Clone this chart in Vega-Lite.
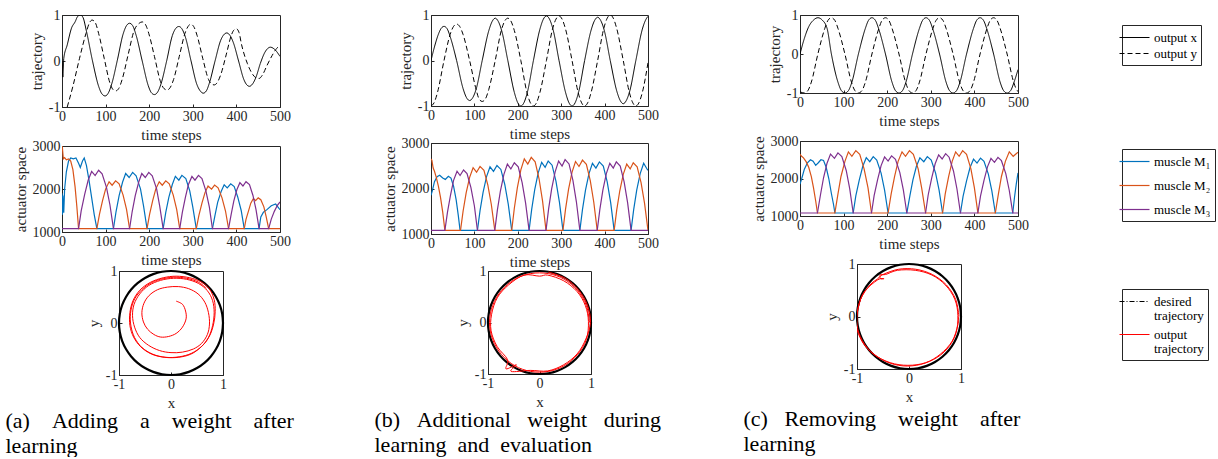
{
"$schema":"https://vega.github.io/schema/vega-lite/v6.json",
"background":"white",
"padding":{"left":5,"top":7,"right":0,"bottom":0},
"config":{
 "view":{"stroke":"#262626","strokeWidth":1},
 "axis":{"labelFont":"Liberation Serif","titleFont":"Liberation Serif","labelFontSize":14,"titleFontSize":15,"titleFontWeight":"normal","labelColor":"#262626","titleColor":"#262626","domainColor":"#262626","tickColor":"#262626","tickSize":-3,"labelPadding":5,"titlePadding":4,"grid":false,"labelFlush":false,"labelOverlap":false},
 "legend":{"labelFont":"Liberation Serif","labelFontSize":13,"labelColor":"black","symbolStrokeWidth":1.2,"strokeColor":"#262626","fillColor":"white","padding":4,"labelOffset":11,"symbolType":"M-2,0H2","symbolSize":225}
},
"datasets":{
"trajA":[
{"t":0,"v":0,"s":"x"},{"t":2,"v":-0.35,"s":"x"},{"t":4,"v":0.05,"s":"x"},{"t":12,"v":0.35,"s":"x"},{"t":22,"v":0.72,"s":"x"},{"t":30,"v":0.85,"s":"x"},{"t":36,"v":0.97,"s":"x"},{"t":42,"v":1.0,"s":"x"},{"t":48,"v":0.95,"s":"x"},{"t":56,"v":0.65,"s":"x"},{"t":70,"v":0.0,"s":"x"},{"t":84,"v":-0.55,"s":"x"},{"t":92,"v":-0.72,"s":"x"},{"t":99,"v":-0.76,"s":"x"},{"t":106,"v":-0.7,"s":"x"},{"t":114,"v":-0.5,"s":"x"},{"t":127,"v":0.02,"s":"x"},{"t":140,"v":0.58,"s":"x"},{"t":148,"v":0.77,"s":"x"},{"t":155,"v":0.82,"s":"x"},{"t":162,"v":0.77,"s":"x"},{"t":170,"v":0.56,"s":"x"},{"t":184,"v":0.0,"s":"x"},{"t":198,"v":-0.54,"s":"x"},{"t":205,"v":-0.69,"s":"x"},{"t":212,"v":-0.73,"s":"x"},{"t":219,"v":-0.68,"s":"x"},{"t":227,"v":-0.5,"s":"x"},{"t":240,"v":0.0,"s":"x"},{"t":253,"v":0.55,"s":"x"},{"t":261,"v":0.71,"s":"x"},{"t":268,"v":0.75,"s":"x"},{"t":275,"v":0.7,"s":"x"},{"t":283,"v":0.52,"s":"x"},{"t":296,"v":0.0,"s":"x"},{"t":309,"v":-0.5,"s":"x"},{"t":317,"v":-0.65,"s":"x"},{"t":324,"v":-0.7,"s":"x"},{"t":331,"v":-0.65,"s":"x"},{"t":338,"v":-0.48,"s":"x"},{"t":351,"v":0.0,"s":"x"},{"t":364,"v":0.45,"s":"x"},{"t":371,"v":0.57,"s":"x"},{"t":378,"v":0.61,"s":"x"},{"t":385,"v":0.56,"s":"x"},{"t":393,"v":0.4,"s":"x"},{"t":405,"v":0.0,"s":"x"},{"t":417,"v":-0.4,"s":"x"},{"t":424,"v":-0.52,"s":"x"},{"t":430,"v":-0.55,"s":"x"},{"t":437,"v":-0.5,"s":"x"},{"t":445,"v":-0.35,"s":"x"},{"t":455,"v":-0.05,"s":"x"},{"t":466,"v":0.2,"s":"x"},{"t":478,"v":0.3,"s":"x"},{"t":488,"v":0.25,"s":"x"},{"t":500,"v":0.1,"s":"x"},
{"t":12,"v":-1.0,"s":"y"},{"t":25,"v":-0.55,"s":"y"},{"t":40,"v":0.05,"s":"y"},{"t":55,"v":0.6,"s":"y"},{"t":63,"v":0.83,"s":"y"},{"t":69,"v":0.89,"s":"y"},{"t":76,"v":0.84,"s":"y"},{"t":84,"v":0.6,"s":"y"},{"t":97,"v":0.05,"s":"y"},{"t":110,"v":-0.48,"s":"y"},{"t":117,"v":-0.62,"s":"y"},{"t":123,"v":-0.65,"s":"y"},{"t":130,"v":-0.6,"s":"y"},{"t":138,"v":-0.4,"s":"y"},{"t":152,"v":0.15,"s":"y"},{"t":165,"v":0.65,"s":"y"},{"t":177,"v":0.82,"s":"y"},{"t":184,"v":0.85,"s":"y"},{"t":191,"v":0.8,"s":"y"},{"t":199,"v":0.6,"s":"y"},{"t":212,"v":0.1,"s":"y"},{"t":226,"v":-0.45,"s":"y"},{"t":234,"v":-0.6,"s":"y"},{"t":241,"v":-0.63,"s":"y"},{"t":248,"v":-0.58,"s":"y"},{"t":256,"v":-0.4,"s":"y"},{"t":269,"v":0.1,"s":"y"},{"t":282,"v":0.6,"s":"y"},{"t":289,"v":0.75,"s":"y"},{"t":295,"v":0.8,"s":"y"},{"t":302,"v":0.75,"s":"y"},{"t":310,"v":0.55,"s":"y"},{"t":323,"v":0.05,"s":"y"},{"t":336,"v":-0.4,"s":"y"},{"t":343,"v":-0.5,"s":"y"},{"t":349,"v":-0.52,"s":"y"},{"t":356,"v":-0.47,"s":"y"},{"t":364,"v":-0.3,"s":"y"},{"t":377,"v":0.15,"s":"y"},{"t":388,"v":0.55,"s":"y"},{"t":394,"v":0.67,"s":"y"},{"t":400,"v":0.7,"s":"y"},{"t":406,"v":0.62,"s":"y"},{"t":412,"v":0.35,"s":"y"},{"t":425,"v":-0.05,"s":"y"},{"t":438,"v":-0.3,"s":"y"},{"t":446,"v":-0.37,"s":"y"},{"t":452,"v":-0.38,"s":"y"},{"t":460,"v":-0.3,"s":"y"},{"t":470,"v":-0.1,"s":"y"},{"t":482,"v":0.12,"s":"y"},{"t":492,"v":0.27,"s":"y"},{"t":500,"v":0.33,"s":"y"}
],
"trajB":[
{"t":0,"v":0,"s":"x"},{"t":8,"v":0.3,"s":"x"},{"t":16,"v":0.55,"s":"x"},{"t":23,"v":0.7,"s":"x"},{"t":30,"v":0.75,"s":"x"},{"t":37,"v":0.7,"s":"x"},{"t":45,"v":0.5,"s":"x"},{"t":59,"v":0.0,"s":"x"},{"t":74,"v":-0.62,"s":"x"},{"t":82,"v":-0.82,"s":"x"},{"t":89,"v":-0.88,"s":"x"},{"t":96,"v":-0.82,"s":"x"},{"t":104,"v":-0.63,"s":"x"},{"t":118,"v":0.0,"s":"x"},{"t":133,"v":0.65,"s":"x"},{"t":141,"v":0.86,"s":"x"},{"t":148,"v":0.93,"s":"x"},{"t":155,"v":0.86,"s":"x"},{"t":163,"v":0.65,"s":"x"},{"t":177,"v":0.0,"s":"x"},{"t":192,"v":-0.7,"s":"x"},{"t":200,"v":-0.93,"s":"x"},{"t":207,"v":-1.0,"s":"x"},{"t":214,"v":-0.93,"s":"x"},{"t":222,"v":-0.7,"s":"x"},{"t":236,"v":0.0,"s":"x"},{"t":251,"v":0.69,"s":"x"},{"t":259,"v":0.91,"s":"x"},{"t":266,"v":0.98,"s":"x"},{"t":273,"v":0.91,"s":"x"},{"t":281,"v":0.69,"s":"x"},{"t":295,"v":0.0,"s":"x"},{"t":310,"v":-0.7,"s":"x"},{"t":318,"v":-0.93,"s":"x"},{"t":325,"v":-1.0,"s":"x"},{"t":332,"v":-0.93,"s":"x"},{"t":340,"v":-0.7,"s":"x"},{"t":354,"v":0.0,"s":"x"},{"t":369,"v":0.67,"s":"x"},{"t":377,"v":0.88,"s":"x"},{"t":384,"v":0.95,"s":"x"},{"t":391,"v":0.88,"s":"x"},{"t":399,"v":0.67,"s":"x"},{"t":413,"v":0.0,"s":"x"},{"t":428,"v":-0.67,"s":"x"},{"t":436,"v":-0.88,"s":"x"},{"t":443,"v":-0.95,"s":"x"},{"t":450,"v":-0.88,"s":"x"},{"t":458,"v":-0.67,"s":"x"},{"t":472,"v":0.0,"s":"x"},{"t":487,"v":0.69,"s":"x"},{"t":495,"v":0.9,"s":"x"},{"t":500,"v":0.97,"s":"x"},
{"t":0,"v":-1.0,"s":"y"},{"t":7,"v":-0.93,"s":"y"},{"t":15,"v":-0.7,"s":"y"},{"t":30,"v":0.0,"s":"y"},{"t":44,"v":0.57,"s":"y"},{"t":52,"v":0.75,"s":"y"},{"t":59,"v":0.8,"s":"y"},{"t":66,"v":0.75,"s":"y"},{"t":74,"v":0.57,"s":"y"},{"t":89,"v":0.0,"s":"y"},{"t":104,"v":-0.64,"s":"y"},{"t":111,"v":-0.85,"s":"y"},{"t":118,"v":-0.9,"s":"y"},{"t":125,"v":-0.85,"s":"y"},{"t":133,"v":-0.64,"s":"y"},{"t":148,"v":0.0,"s":"y"},{"t":162,"v":0.66,"s":"y"},{"t":170,"v":0.87,"s":"y"},{"t":177,"v":0.93,"s":"y"},{"t":184,"v":0.87,"s":"y"},{"t":192,"v":0.66,"s":"y"},{"t":207,"v":0.0,"s":"y"},{"t":221,"v":-0.7,"s":"y"},{"t":229,"v":-0.93,"s":"y"},{"t":236,"v":-1.0,"s":"y"},{"t":243,"v":-0.93,"s":"y"},{"t":251,"v":-0.7,"s":"y"},{"t":266,"v":0.0,"s":"y"},{"t":280,"v":0.69,"s":"y"},{"t":288,"v":0.91,"s":"y"},{"t":295,"v":0.98,"s":"y"},{"t":302,"v":0.91,"s":"y"},{"t":310,"v":0.69,"s":"y"},{"t":325,"v":0.0,"s":"y"},{"t":339,"v":-0.7,"s":"y"},{"t":347,"v":-0.93,"s":"y"},{"t":354,"v":-1.0,"s":"y"},{"t":361,"v":-0.93,"s":"y"},{"t":369,"v":-0.7,"s":"y"},{"t":384,"v":0.0,"s":"y"},{"t":398,"v":0.7,"s":"y"},{"t":406,"v":0.93,"s":"y"},{"t":413,"v":1.0,"s":"y"},{"t":420,"v":0.93,"s":"y"},{"t":428,"v":0.7,"s":"y"},{"t":443,"v":0.0,"s":"y"},{"t":457,"v":-0.7,"s":"y"},{"t":465,"v":-0.93,"s":"y"},{"t":472,"v":-1.0,"s":"y"},{"t":479,"v":-0.93,"s":"y"},{"t":487,"v":-0.7,"s":"y"},{"t":500,"v":-0.05,"s":"y"}
],
"trajC":[
{"t":0,"v":0,"s":"x"},{"t":10,"v":0.4,"s":"x"},{"t":20,"v":0.7,"s":"x"},{"t":31,"v":0.87,"s":"x"},{"t":41,"v":0.93,"s":"x"},{"t":51,"v":0.87,"s":"x"},{"t":62,"v":0.66,"s":"x"},{"t":72,"v":0.0,"s":"x"},{"t":87,"v":-0.72,"s":"x"},{"t":95,"v":-0.94,"s":"x"},{"t":103,"v":-1.0,"s":"x"},{"t":111,"v":-0.94,"s":"x"},{"t":119,"v":-0.72,"s":"x"},{"t":134,"v":0.0,"s":"x"},{"t":150,"v":0.66,"s":"x"},{"t":157,"v":0.86,"s":"x"},{"t":165,"v":0.93,"s":"x"},{"t":173,"v":0.86,"s":"x"},{"t":180,"v":0.66,"s":"x"},{"t":196,"v":0.0,"s":"x"},{"t":211,"v":-0.72,"s":"x"},{"t":219,"v":-0.94,"s":"x"},{"t":227,"v":-1.0,"s":"x"},{"t":235,"v":-0.94,"s":"x"},{"t":243,"v":-0.72,"s":"x"},{"t":258,"v":0.0,"s":"x"},{"t":274,"v":0.66,"s":"x"},{"t":281,"v":0.86,"s":"x"},{"t":289,"v":0.93,"s":"x"},{"t":297,"v":0.86,"s":"x"},{"t":304,"v":0.66,"s":"x"},{"t":320,"v":0.0,"s":"x"},{"t":335,"v":-0.72,"s":"x"},{"t":343,"v":-0.94,"s":"x"},{"t":351,"v":-1.0,"s":"x"},{"t":359,"v":-0.94,"s":"x"},{"t":367,"v":-0.72,"s":"x"},{"t":382,"v":0.0,"s":"x"},{"t":398,"v":0.66,"s":"x"},{"t":405,"v":0.86,"s":"x"},{"t":413,"v":0.93,"s":"x"},{"t":421,"v":0.86,"s":"x"},{"t":428,"v":0.66,"s":"x"},{"t":444,"v":0.0,"s":"x"},{"t":459,"v":-0.72,"s":"x"},{"t":467,"v":-0.94,"s":"x"},{"t":475,"v":-1.0,"s":"x"},{"t":483,"v":-0.94,"s":"x"},{"t":491,"v":-0.72,"s":"x"},{"t":500,"v":-0.4,"s":"x"},
{"t":0,"v":-0.97,"s":"y"},{"t":10,"v":-1.0,"s":"y"},{"t":18,"v":-0.94,"s":"y"},{"t":26,"v":-0.72,"s":"y"},{"t":41,"v":0.0,"s":"y"},{"t":57,"v":0.66,"s":"y"},{"t":64,"v":0.86,"s":"y"},{"t":72,"v":0.93,"s":"y"},{"t":80,"v":0.86,"s":"y"},{"t":87,"v":0.66,"s":"y"},{"t":103,"v":0.0,"s":"y"},{"t":118,"v":-0.72,"s":"y"},{"t":126,"v":-0.94,"s":"y"},{"t":134,"v":-1.0,"s":"y"},{"t":142,"v":-0.94,"s":"y"},{"t":150,"v":-0.72,"s":"y"},{"t":165,"v":0.0,"s":"y"},{"t":181,"v":0.66,"s":"y"},{"t":188,"v":0.86,"s":"y"},{"t":196,"v":0.93,"s":"y"},{"t":204,"v":0.86,"s":"y"},{"t":211,"v":0.66,"s":"y"},{"t":227,"v":0.0,"s":"y"},{"t":242,"v":-0.72,"s":"y"},{"t":250,"v":-0.94,"s":"y"},{"t":258,"v":-1.0,"s":"y"},{"t":266,"v":-0.94,"s":"y"},{"t":274,"v":-0.72,"s":"y"},{"t":289,"v":0.0,"s":"y"},{"t":305,"v":0.66,"s":"y"},{"t":312,"v":0.86,"s":"y"},{"t":320,"v":0.93,"s":"y"},{"t":328,"v":0.86,"s":"y"},{"t":335,"v":0.66,"s":"y"},{"t":351,"v":0.0,"s":"y"},{"t":366,"v":-0.72,"s":"y"},{"t":374,"v":-0.94,"s":"y"},{"t":382,"v":-1.0,"s":"y"},{"t":390,"v":-0.94,"s":"y"},{"t":398,"v":-0.72,"s":"y"},{"t":413,"v":0.0,"s":"y"},{"t":429,"v":0.66,"s":"y"},{"t":436,"v":0.86,"s":"y"},{"t":444,"v":0.93,"s":"y"},{"t":452,"v":0.86,"s":"y"},{"t":459,"v":0.66,"s":"y"},{"t":475,"v":0.0,"s":"y"},{"t":490,"v":-0.72,"s":"y"},{"t":498,"v":-0.94,"s":"y"},{"t":500,"v":-0.96,"s":"y"}
],
"actA":[
{"t":0,"v":1900,"m":1},{"t":1,"v":1400,"m":1},{"t":2,"v":1850,"m":1},{"t":4,"v":1450,"m":1},{"t":6,"v":2000,"m":1},{"t":10,"v":2400,"m":1},{"t":15,"v":2650,"m":1},{"t":20,"v":2720,"m":1},{"t":26,"v":2700,"m":1},{"t":32,"v":2720,"m":1},{"t":38,"v":2600,"m":1},{"t":42,"v":2500,"m":1},{"t":47,"v":2650,"m":1},{"t":51,"v":2720,"m":1},{"t":56,"v":2550,"m":1},{"t":62,"v":2200,"m":1},{"t":68,"v":1800,"m":1},{"t":74,"v":1400,"m":1},{"t":80,"v":1080,"m":1},
{"t":118,"v":1080,"m":1},{"t":124,"v":1476,"m":1},{"t":131,"v":1846,"m":1},{"t":139,"v":2162,"m":1},{"t":146,"v":2360,"m":1},{"t":154,"v":2268,"m":1},{"t":162,"v":2387,"m":1},{"t":170,"v":2308,"m":1},{"t":180,"v":2004,"m":1},{"t":187,"v":1608,"m":1},{"t":195,"v":1080,"m":1},
{"t":232,"v":1080,"m":1},{"t":238,"v":1455,"m":1},{"t":245,"v":1805,"m":1},{"t":253,"v":2105,"m":1},{"t":260,"v":2293,"m":1},{"t":268,"v":2205,"m":1},{"t":275,"v":2318,"m":1},{"t":284,"v":2243,"m":1},{"t":293,"v":1955,"m":1},{"t":300,"v":1580,"m":1},{"t":308,"v":1080,"m":1},
{"t":345,"v":1080,"m":1},{"t":351,"v":1395,"m":1},{"t":357,"v":1689,"m":1},{"t":365,"v":1941,"m":1},{"t":372,"v":2099,"m":1},{"t":379,"v":2025,"m":1},{"t":387,"v":2120,"m":1},{"t":395,"v":2057,"m":1},{"t":403,"v":1815,"m":1},{"t":411,"v":1500,"m":1},{"t":418,"v":1080,"m":1},
{"t":452,"v":1080,"m":1},{"t":456,"v":1350,"m":1},{"t":462,"v":1460,"m":1},{"t":470,"v":1520,"m":1},{"t":480,"v":1610,"m":1},{"t":490,"v":1650,"m":1},{"t":500,"v":1520,"m":1},
{"t":0,"v":3000,"m":2},{"t":1,"v":2950,"m":2},{"t":3,"v":2700,"m":2},{"t":6,"v":2730,"m":2},{"t":10,"v":2680,"m":2},{"t":15,"v":2700,"m":2},{"t":20,"v":2650,"m":2},{"t":25,"v":2450,"m":2},{"t":30,"v":2050,"m":2},{"t":34,"v":1600,"m":2},{"t":38,"v":1080,"m":2},
{"t":80,"v":1080,"m":2},{"t":86,"v":1416,"m":2},{"t":93,"v":1730,"m":2},{"t":100,"v":1998,"m":2},{"t":108,"v":2166,"m":2},{"t":115,"v":2088,"m":2},{"t":123,"v":2189,"m":2},{"t":131,"v":2122,"m":2},{"t":140,"v":1864,"m":2},{"t":148,"v":1528,"m":2},{"t":155,"v":1080,"m":2},
{"t":195,"v":1080,"m":2},{"t":201,"v":1416,"m":2},{"t":208,"v":1730,"m":2},{"t":215,"v":1998,"m":2},{"t":223,"v":2166,"m":2},{"t":230,"v":2088,"m":2},{"t":238,"v":2189,"m":2},{"t":246,"v":2122,"m":2},{"t":255,"v":1864,"m":2},{"t":263,"v":1528,"m":2},{"t":270,"v":1080,"m":2},
{"t":308,"v":1080,"m":2},{"t":314,"v":1386,"m":2},{"t":321,"v":1672,"m":2},{"t":328,"v":1916,"m":2},{"t":335,"v":2069,"m":2},{"t":343,"v":1998,"m":2},{"t":350,"v":2090,"m":2},{"t":358,"v":2029,"m":2},{"t":367,"v":1794,"m":2},{"t":375,"v":1488,"m":2},{"t":382,"v":1080,"m":2},
{"t":418,"v":1080,"m":2},{"t":422,"v":1296,"m":2},{"t":428,"v":1498,"m":2},{"t":433,"v":1670,"m":2},{"t":439,"v":1778,"m":2},{"t":444,"v":1728,"m":2},{"t":450,"v":1793,"m":2},{"t":456,"v":1750,"m":2},{"t":463,"v":1584,"m":2},{"t":468,"v":1368,"m":2},{"t":474,"v":1080,"m":2},{"t":500,"v":1080,"m":2},
{"t":0,"v":1080,"m":3},{"t":38,"v":1080,"m":3},{"t":44,"v":1491,"m":3},{"t":52,"v":1875,"m":3},{"t":60,"v":2203,"m":3},{"t":68,"v":2409,"m":3},{"t":76,"v":2313,"m":3},{"t":84,"v":2436,"m":3},{"t":92,"v":2354,"m":3},{"t":102,"v":2039,"m":3},{"t":110,"v":1628,"m":3},{"t":118,"v":1080,"m":3},
{"t":155,"v":1080,"m":3},{"t":161,"v":1476,"m":3},{"t":168,"v":1846,"m":3},{"t":176,"v":2162,"m":3},{"t":183,"v":2360,"m":3},{"t":191,"v":2268,"m":3},{"t":199,"v":2387,"m":3},{"t":207,"v":2308,"m":3},{"t":217,"v":2004,"m":3},{"t":224,"v":1608,"m":3},{"t":232,"v":1080,"m":3},
{"t":270,"v":1080,"m":3},{"t":276,"v":1455,"m":3},{"t":283,"v":1805,"m":3},{"t":290,"v":2105,"m":3},{"t":298,"v":2293,"m":3},{"t":305,"v":2205,"m":3},{"t":313,"v":2318,"m":3},{"t":321,"v":2243,"m":3},{"t":330,"v":1955,"m":3},{"t":338,"v":1580,"m":3},{"t":345,"v":1080,"m":3},
{"t":382,"v":1080,"m":3},{"t":388,"v":1410,"m":3},{"t":394,"v":1718,"m":3},{"t":401,"v":1982,"m":3},{"t":408,"v":2147,"m":3},{"t":415,"v":2070,"m":3},{"t":422,"v":2169,"m":3},{"t":430,"v":2103,"m":3},{"t":438,"v":1850,"m":3},{"t":445,"v":1520,"m":3},{"t":452,"v":1080,"m":3},
{"t":474,"v":1080,"m":3},{"t":480,"v":1300,"m":3},{"t":487,"v":1480,"m":3},{"t":494,"v":1620,"m":3},{"t":500,"v":1700,"m":3}
],
"actB":[
{"t":0,"v":1850,"m":1},{"t":3,"v":1950,"m":1},{"t":8,"v":2150,"m":1},{"t":14,"v":2260,"m":1},{"t":20,"v":2290,"m":1},{"t":27,"v":2230,"m":1},{"t":33,"v":2200,"m":1},{"t":40,"v":2270,"m":1},{"t":46,"v":2230,"m":1},{"t":52,"v":2050,"m":1},{"t":58,"v":1750,"m":1},{"t":63,"v":1400,"m":1},{"t":67,"v":1080,"m":1},
{"t":107,"v":1080,"m":1},{"t":113,"v":1512,"m":1},{"t":120,"v":1915,"m":1},{"t":128,"v":2261,"m":1},{"t":136,"v":2477,"m":1},{"t":144,"v":2376,"m":1},{"t":152,"v":2506,"m":1},{"t":161,"v":2419,"m":1},{"t":170,"v":2088,"m":1},{"t":178,"v":1656,"m":1},{"t":186,"v":1080,"m":1},
{"t":226,"v":1080,"m":1},{"t":232,"v":1542,"m":1},{"t":239,"v":1973,"m":1},{"t":247,"v":2343,"m":1},{"t":255,"v":2574,"m":1},{"t":263,"v":2466,"m":1},{"t":270,"v":2605,"m":1},{"t":279,"v":2512,"m":1},{"t":288,"v":2158,"m":1},{"t":296,"v":1696,"m":1},{"t":304,"v":1080,"m":1},
{"t":343,"v":1080,"m":1},{"t":349,"v":1536,"m":1},{"t":356,"v":1962,"m":1},{"t":364,"v":2326,"m":1},{"t":372,"v":2554,"m":1},{"t":380,"v":2448,"m":1},{"t":388,"v":2585,"m":1},{"t":397,"v":2494,"m":1},{"t":406,"v":2144,"m":1},{"t":414,"v":1688,"m":1},{"t":422,"v":1080,"m":1},
{"t":461,"v":1080,"m":1},{"t":467,"v":1536,"m":1},{"t":474,"v":1962,"m":1},{"t":482,"v":2326,"m":1},{"t":490,"v":2554,"m":1},{"t":497,"v":2440,"m":1},{"t":500,"v":2400,"m":1},
{"t":0,"v":2650,"m":2},{"t":2,"v":2620,"m":2},{"t":5,"v":2450,"m":2},{"t":8,"v":2380,"m":2},{"t":12,"v":2250,"m":2},{"t":17,"v":2050,"m":2},{"t":22,"v":1800,"m":2},{"t":27,"v":1480,"m":2},{"t":32,"v":1080,"m":2},
{"t":68,"v":1080,"m":2},{"t":74,"v":1506,"m":2},{"t":81,"v":1904,"m":2},{"t":89,"v":2244,"m":2},{"t":97,"v":2457,"m":2},{"t":105,"v":2358,"m":2},{"t":113,"v":2486,"m":2},{"t":122,"v":2401,"m":2},{"t":131,"v":2074,"m":2},{"t":139,"v":1648,"m":2},{"t":147,"v":1080,"m":2},
{"t":186,"v":1080,"m":2},{"t":192,"v":1566,"m":2},{"t":199,"v":2020,"m":2},{"t":207,"v":2408,"m":2},{"t":215,"v":2651,"m":2},{"t":223,"v":2538,"m":2},{"t":231,"v":2684,"m":2},{"t":240,"v":2587,"m":2},{"t":249,"v":2214,"m":2},{"t":257,"v":1728,"m":2},{"t":265,"v":1080,"m":2},
{"t":304,"v":1080,"m":2},{"t":310,"v":1548,"m":2},{"t":317,"v":1985,"m":2},{"t":325,"v":2359,"m":2},{"t":333,"v":2593,"m":2},{"t":341,"v":2484,"m":2},{"t":349,"v":2624,"m":2},{"t":358,"v":2531,"m":2},{"t":367,"v":2172,"m":2},{"t":375,"v":1704,"m":2},{"t":383,"v":1080,"m":2},
{"t":422,"v":1080,"m":2},{"t":428,"v":1530,"m":2},{"t":435,"v":1950,"m":2},{"t":443,"v":2310,"m":2},{"t":451,"v":2535,"m":2},{"t":459,"v":2430,"m":2},{"t":466,"v":2565,"m":2},{"t":475,"v":2475,"m":2},{"t":484,"v":2130,"m":2},{"t":492,"v":1680,"m":2},{"t":500,"v":1080,"m":2},
{"t":0,"v":1080,"m":3},{"t":32,"v":1080,"m":3},{"t":38,"v":1482,"m":3},{"t":45,"v":1857,"m":3},{"t":52,"v":2179,"m":3},{"t":60,"v":2380,"m":3},{"t":67,"v":2286,"m":3},{"t":75,"v":2407,"m":3},{"t":83,"v":2326,"m":3},{"t":92,"v":2018,"m":3},{"t":100,"v":1616,"m":3},{"t":107,"v":1080,"m":3},
{"t":147,"v":1080,"m":3},{"t":153,"v":1530,"m":3},{"t":160,"v":1950,"m":3},{"t":168,"v":2310,"m":3},{"t":176,"v":2535,"m":3},{"t":184,"v":2430,"m":3},{"t":192,"v":2565,"m":3},{"t":201,"v":2475,"m":3},{"t":210,"v":2130,"m":3},{"t":218,"v":1680,"m":3},{"t":226,"v":1080,"m":3},
{"t":265,"v":1080,"m":3},{"t":271,"v":1551,"m":3},{"t":278,"v":1991,"m":3},{"t":286,"v":2367,"m":3},{"t":294,"v":2603,"m":3},{"t":302,"v":2493,"m":3},{"t":309,"v":2634,"m":3},{"t":318,"v":2540,"m":3},{"t":327,"v":2179,"m":3},{"t":335,"v":1708,"m":3},{"t":343,"v":1080,"m":3},
{"t":383,"v":1080,"m":3},{"t":389,"v":1536,"m":3},{"t":396,"v":1962,"m":3},{"t":404,"v":2326,"m":3},{"t":412,"v":2554,"m":3},{"t":420,"v":2448,"m":3},{"t":427,"v":2585,"m":3},{"t":436,"v":2494,"m":3},{"t":445,"v":2144,"m":3},{"t":453,"v":1688,"m":3},{"t":461,"v":1080,"m":3},{"t":500,"v":1080,"m":3}
],
"actC":[
{"t":0,"v":1850,"m":1},{"t":4,"v":2000,"m":1},{"t":10,"v":2250,"m":1},{"t":17,"v":2420,"m":1},{"t":24,"v":2500,"m":1},{"t":30,"v":2460,"m":1},{"t":36,"v":2350,"m":1},{"t":42,"v":2420,"m":1},{"t":48,"v":2500,"m":1},{"t":54,"v":2480,"m":1},{"t":60,"v":2300,"m":1},{"t":66,"v":2000,"m":1},{"t":72,"v":1600,"m":1},{"t":77,"v":1300,"m":1},{"t":80,"v":1080,"m":1},
{"t":122,"v":1080,"m":1},{"t":128,"v":1536,"m":1},{"t":136,"v":1962,"m":1},{"t":144,"v":2326,"m":1},{"t":152,"v":2554,"m":1},{"t":160,"v":2448,"m":1},{"t":168,"v":2585,"m":1},{"t":176,"v":2494,"m":1},{"t":186,"v":2144,"m":1},{"t":194,"v":1688,"m":1},{"t":202,"v":1080,"m":1},
{"t":245,"v":1080,"m":1},{"t":252,"v":1536,"m":1},{"t":259,"v":1962,"m":1},{"t":267,"v":2326,"m":1},{"t":275,"v":2554,"m":1},{"t":284,"v":2448,"m":1},{"t":292,"v":2585,"m":1},{"t":301,"v":2494,"m":1},{"t":311,"v":2144,"m":1},{"t":319,"v":1688,"m":1},{"t":327,"v":1080,"m":1},
{"t":368,"v":1080,"m":1},{"t":374,"v":1524,"m":1},{"t":382,"v":1938,"m":1},{"t":390,"v":2294,"m":1},{"t":398,"v":2516,"m":1},{"t":406,"v":2412,"m":1},{"t":414,"v":2545,"m":1},{"t":422,"v":2456,"m":1},{"t":432,"v":2116,"m":1},{"t":440,"v":1672,"m":1},{"t":448,"v":1080,"m":1},
{"t":488,"v":1080,"m":1},{"t":492,"v":1500,"m":1},{"t":496,"v":1850,"m":1},{"t":500,"v":2150,"m":1},
{"t":0,"v":2650,"m":2},{"t":3,"v":2600,"m":2},{"t":8,"v":2550,"m":2},{"t":14,"v":2450,"m":2},{"t":20,"v":2300,"m":2},{"t":26,"v":2050,"m":2},{"t":31,"v":1750,"m":2},{"t":36,"v":1400,"m":2},{"t":40,"v":1080,"m":2},
{"t":80,"v":1080,"m":2},{"t":87,"v":1584,"m":2},{"t":94,"v":2054,"m":2},{"t":103,"v":2458,"m":2},{"t":111,"v":2710,"m":2},{"t":119,"v":2592,"m":2},{"t":128,"v":2743,"m":2},{"t":137,"v":2642,"m":2},{"t":147,"v":2256,"m":2},{"t":156,"v":1752,"m":2},{"t":164,"v":1080,"m":2},
{"t":202,"v":1080,"m":2},{"t":209,"v":1584,"m":2},{"t":217,"v":2054,"m":2},{"t":225,"v":2458,"m":2},{"t":234,"v":2710,"m":2},{"t":242,"v":2592,"m":2},{"t":251,"v":2743,"m":2},{"t":260,"v":2642,"m":2},{"t":271,"v":2256,"m":2},{"t":279,"v":1752,"m":2},{"t":288,"v":1080,"m":2},
{"t":327,"v":1080,"m":2},{"t":333,"v":1584,"m":2},{"t":341,"v":2054,"m":2},{"t":349,"v":2458,"m":2},{"t":357,"v":2710,"m":2},{"t":365,"v":2592,"m":2},{"t":373,"v":2743,"m":2},{"t":382,"v":2642,"m":2},{"t":392,"v":2256,"m":2},{"t":400,"v":1752,"m":2},{"t":408,"v":1080,"m":2},
{"t":448,"v":1080,"m":2},{"t":455,"v":1584,"m":2},{"t":462,"v":2054,"m":2},{"t":471,"v":2458,"m":2},{"t":480,"v":2710,"m":2},{"t":489,"v":2592,"m":2},{"t":500,"v":2700,"m":2},
{"t":0,"v":1080,"m":3},{"t":40,"v":1080,"m":3},{"t":47,"v":1566,"m":3},{"t":54,"v":2020,"m":3},{"t":62,"v":2408,"m":3},{"t":70,"v":2651,"m":3},{"t":79,"v":2538,"m":3},{"t":87,"v":2684,"m":3},{"t":96,"v":2587,"m":3},{"t":106,"v":2214,"m":3},{"t":114,"v":1728,"m":3},{"t":122,"v":1080,"m":3},
{"t":164,"v":1080,"m":3},{"t":170,"v":1542,"m":3},{"t":178,"v":1973,"m":3},{"t":186,"v":2343,"m":3},{"t":194,"v":2574,"m":3},{"t":202,"v":2466,"m":3},{"t":210,"v":2605,"m":3},{"t":219,"v":2512,"m":3},{"t":229,"v":2158,"m":3},{"t":237,"v":1696,"m":3},{"t":245,"v":1080,"m":3},
{"t":288,"v":1080,"m":3},{"t":294,"v":1560,"m":3},{"t":302,"v":2008,"m":3},{"t":310,"v":2392,"m":3},{"t":318,"v":2632,"m":3},{"t":326,"v":2520,"m":3},{"t":334,"v":2664,"m":3},{"t":342,"v":2568,"m":3},{"t":352,"v":2200,"m":3},{"t":360,"v":1720,"m":3},{"t":368,"v":1080,"m":3},
{"t":408,"v":1080,"m":3},{"t":414,"v":1530,"m":3},{"t":422,"v":1950,"m":3},{"t":430,"v":2310,"m":3},{"t":438,"v":2535,"m":3},{"t":446,"v":2430,"m":3},{"t":454,"v":2565,"m":3},{"t":462,"v":2475,"m":3},{"t":472,"v":2130,"m":3},{"t":480,"v":1680,"m":3},{"t":488,"v":1080,"m":3},{"t":500,"v":1080,"m":3}
],
"circle":[
{"i":0,"x":1,"y":0},{"i":1,"x":0.985,"y":0.174},{"i":2,"x":0.94,"y":0.342},{"i":3,"x":0.866,"y":0.5},{"i":4,"x":0.766,"y":0.643},{"i":5,"x":0.643,"y":0.766},{"i":6,"x":0.5,"y":0.866},{"i":7,"x":0.342,"y":0.94},{"i":8,"x":0.174,"y":0.985},{"i":9,"x":0,"y":1},{"i":10,"x":-0.174,"y":0.985},{"i":11,"x":-0.342,"y":0.94},{"i":12,"x":-0.5,"y":0.866},{"i":13,"x":-0.643,"y":0.766},{"i":14,"x":-0.766,"y":0.643},{"i":15,"x":-0.866,"y":0.5},{"i":16,"x":-0.94,"y":0.342},{"i":17,"x":-0.985,"y":0.174},{"i":18,"x":-1,"y":0},{"i":19,"x":-0.985,"y":-0.174},{"i":20,"x":-0.94,"y":-0.342},{"i":21,"x":-0.866,"y":-0.5},{"i":22,"x":-0.766,"y":-0.643},{"i":23,"x":-0.643,"y":-0.766},{"i":24,"x":-0.5,"y":-0.866},{"i":25,"x":-0.342,"y":-0.94},{"i":26,"x":-0.174,"y":-0.985},{"i":27,"x":0,"y":-1},{"i":28,"x":0.174,"y":-0.985},{"i":29,"x":0.342,"y":-0.94},{"i":30,"x":0.5,"y":-0.866},{"i":31,"x":0.643,"y":-0.766},{"i":32,"x":0.766,"y":-0.643},{"i":33,"x":0.866,"y":-0.5},{"i":34,"x":0.94,"y":-0.342},{"i":35,"x":0.985,"y":-0.174},{"i":36,"x":1,"y":0}
],
"redA":[
{"i":0,"x":0.10,"y":0.42},{"i":1,"x":0.22,"y":0.36},{"i":2,"x":0.28,"y":0.23},{"i":3,"x":0.29,"y":0.08},{"i":4,"x":0.22,"y":-0.08},{"i":5,"x":0.10,"y":-0.20},{"i":6,"x":-0.05,"y":-0.26},{"i":7,"x":-0.20,"y":-0.27},{"i":8,"x":-0.33,"y":-0.22},{"i":9,"x":-0.45,"y":-0.12},{"i":10,"x":-0.53,"y":0.02},{"i":11,"x":-0.56,"y":0.20},{"i":12,"x":-0.52,"y":0.38},{"i":13,"x":-0.42,"y":0.53},{"i":14,"x":-0.26,"y":0.64},{"i":15,"x":-0.07,"y":0.69},{"i":16,"x":0.14,"y":0.70},{"i":17,"x":0.34,"y":0.66},{"i":18,"x":0.52,"y":0.56},{"i":19,"x":0.65,"y":0.40},{"i":20,"x":0.72,"y":0.20},{"i":21,"x":0.74,"y":-0.02},{"i":22,"x":0.70,"y":-0.22},{"i":23,"x":0.59,"y":-0.39},{"i":24,"x":0.43,"y":-0.50},{"i":25,"x":0.22,"y":-0.56},{"i":26,"x":0.0,"y":-0.57},{"i":27,"x":-0.22,"y":-0.53},{"i":28,"x":-0.43,"y":-0.43},{"i":29,"x":-0.60,"y":-0.28},{"i":30,"x":-0.70,"y":-0.08},{"i":31,"x":-0.74,"y":0.14},{"i":32,"x":-0.71,"y":0.36},{"i":33,"x":-0.60,"y":0.56},{"i":34,"x":-0.43,"y":0.72},{"i":35,"x":-0.20,"y":0.82},{"i":36,"x":0.05,"y":0.86},{"i":37,"x":0.30,"y":0.84},{"i":38,"x":0.53,"y":0.76},{"i":39,"x":0.70,"y":0.62},{"i":40,"x":0.80,"y":0.43},{"i":41,"x":0.83,"y":0.20},{"i":42,"x":0.80,"y":-0.05},{"i":43,"x":0.72,"y":-0.28},{"i":44,"x":0.58,"y":-0.46},{"i":45,"x":0.38,"y":-0.60},{"i":46,"x":0.14,"y":-0.66},{"i":47,"x":-0.12,"y":-0.66},{"i":48,"x":-0.37,"y":-0.60},{"i":49,"x":-0.58,"y":-0.46},{"i":50,"x":-0.72,"y":-0.27},{"i":51,"x":-0.79,"y":-0.05},{"i":52,"x":-0.79,"y":0.20},{"i":53,"x":-0.73,"y":0.43},{"i":54,"x":-0.60,"y":0.63},{"i":55,"x":-0.40,"y":0.78},{"i":56,"x":-0.15,"y":0.87},{"i":57,"x":0.10,"y":0.90},{"i":58,"x":0.36,"y":0.87},{"i":59,"x":0.58,"y":0.79},{"i":60,"x":0.74,"y":0.65},{"i":61,"x":0.83,"y":0.45},{"i":62,"x":0.85,"y":0.22},{"i":63,"x":0.82,"y":-0.02},{"i":64,"x":0.74,"y":-0.25},{"i":65,"x":0.60,"y":-0.44},{"i":66,"x":0.40,"y":-0.58},{"i":67,"x":0.16,"y":-0.65},{"i":68,"x":-0.10,"y":-0.66},{"i":69,"x":-0.35,"y":-0.60},{"i":70,"x":-0.56,"y":-0.47},{"i":71,"x":-0.70,"y":-0.28},{"i":72,"x":-0.77,"y":-0.06},{"i":73,"x":-0.78,"y":0.18},{"i":74,"x":-0.72,"y":0.42},{"i":75,"x":-0.60,"y":0.60},{"i":76,"x":-0.42,"y":0.75},{"i":77,"x":-0.20,"y":0.84},{"i":78,"x":0.05,"y":0.88},{"i":79,"x":0.30,"y":0.86},{"i":80,"x":0.52,"y":0.79},{"i":81,"x":0.68,"y":0.67}
],
"redB":[
{"i":0,"x":0.97,"y":0},{"i":1,"x":0.91,"y":0.33},{"i":2,"x":0.74,"y":0.62},{"i":3,"x":0.48,"y":0.84},{"i":4,"x":0.17,"y":0.95},{"i":5,"x":-0.17,"y":0.95},{"i":6,"x":-0.48,"y":0.84},{"i":7,"x":-0.74,"y":0.62},{"i":8,"x":-0.91,"y":0.33},{"i":9,"x":-0.97,"y":0},{"i":10,"x":-0.91,"y":-0.33},{"i":11,"x":-0.74,"y":-0.62},{"i":12,"x":-0.48,"y":-0.84},{"i":13,"x":-0.17,"y":-0.95},{"i":14,"x":0.17,"y":-0.95},{"i":15,"x":0.48,"y":-0.84},{"i":16,"x":0.74,"y":-0.62},{"i":17,"x":0.91,"y":-0.33},{"i":18,"x":0.95,"y":0.02},{"i":19,"x":0.89,"y":0.33},{"i":20,"x":0.73,"y":0.6},{"i":21,"x":0.47,"y":0.81},{"i":22,"x":0.16,"y":0.92},{"i":23,"x":0.0,"y":0.9},{"i":24,"x":-0.3,"y":0.92},{"i":25,"x":-0.6,"y":0.73},{"i":26,"x":-0.82,"y":0.48},{"i":27,"x":-0.93,"y":0.16},{"i":28,"x":-0.94,"y":-0.16},{"i":29,"x":-0.82,"y":-0.47},{"i":30,"x":-0.62,"y":-0.72},{"i":31,"x":-0.65,"y":-0.9},{"i":32,"x":-0.45,"y":-0.82},{"i":33,"x":-0.55,"y":-0.95},{"i":34,"x":-0.18,"y":-0.93},{"i":35,"x":0.16,"y":-0.94},{"i":36,"x":0.47,"y":-0.82},{"i":37,"x":0.73,"y":-0.61},{"i":38,"x":0.9,"y":-0.32},{"i":39,"x":0.99,"y":0},{"i":40,"x":0.93,"y":0.34},{"i":41,"x":0.76,"y":0.63},{"i":42,"x":0.5,"y":0.86},{"i":43,"x":0.17,"y":0.98}
],
"redC":[
{"i":0,"x":0.96,"y":0.0},{"i":1,"x":0.9,"y":0.32},{"i":2,"x":0.72,"y":0.6},{"i":3,"x":0.45,"y":0.8},{"i":4,"x":0.13,"y":0.9},{"i":5,"x":-0.2,"y":0.9},{"i":6,"x":-0.5,"y":0.8},{"i":7,"x":-0.6,"y":0.72},{"i":8,"x":-0.75,"y":0.6},{"i":9,"x":-0.93,"y":0.33},{"i":10,"x":-1.0,"y":0.0},{"i":11,"x":-0.97,"y":-0.3},{"i":12,"x":-0.8,"y":-0.6},{"i":13,"x":-0.52,"y":-0.82},{"i":14,"x":-0.2,"y":-0.93},{"i":15,"x":0.14,"y":-0.93},{"i":16,"x":0.47,"y":-0.82},{"i":17,"x":0.73,"y":-0.62},{"i":18,"x":0.9,"y":-0.33},{"i":19,"x":0.94,"y":0.02},{"i":20,"x":0.88,"y":0.33},{"i":21,"x":0.7,"y":0.6},{"i":22,"x":0.44,"y":0.79},{"i":23,"x":0.12,"y":0.88},{"i":24,"x":-0.22,"y":0.88},{"i":25,"x":-0.45,"y":0.8},{"i":26,"x":-0.55,"y":0.8},{"i":27,"x":-0.55,"y":0.72},{"i":28,"x":-0.48,"y":0.72},{"i":29,"x":-0.6,"y":0.7},{"i":30,"x":-0.86,"y":0.47},{"i":31,"x":-0.98,"y":0.16},{"i":32,"x":-1.02,"y":-0.15},{"i":33,"x":-0.9,"y":-0.48},{"i":34,"x":-0.68,"y":-0.72},{"i":35,"x":-0.36,"y":-0.88},{"i":36,"x":-0.02,"y":-0.93},{"i":37,"x":0.32,"y":-0.88},{"i":38,"x":0.6,"y":-0.72},{"i":39,"x":0.83,"y":-0.47},{"i":40,"x":0.94,"y":-0.16},{"i":41,"x":0.95,"y":0.0}
]
},
"hconcat":[
{
 "vconcat":[
  {"width":218,"height":92,"data":{"name":"trajA"},"mark":{"type":"line","color":"black","strokeWidth":1,"clip":true,"interpolate":"monotone"},
   "encoding":{"x":{"field":"t","type":"quantitative","scale":{"domain":[0,500],"nice":false},"axis":{"values":[0,100,200,300,400,500],"title":"time steps"}},
    "y":{"field":"v","type":"quantitative","scale":{"domain":[-1,1],"nice":false},"axis":{"values":[-1,0,1],"title":"trajectory","labelExpr":"'' + datum.value"}},
    "strokeDash":{"field":"s","type":"nominal","scale":{"domain":["x","y"],"range":[[1,0],[5,3]]},"legend":null}}},
  {"width":218,"height":86,"data":{"name":"actA"},"mark":{"type":"line","strokeWidth":1.2,"clip":true},
   "encoding":{"x":{"field":"t","type":"quantitative","scale":{"domain":[0,500],"nice":false},"axis":{"values":[0,100,200,300,400,500],"title":"time steps"}},
    "y":{"field":"v","type":"quantitative","scale":{"domain":[1000,3000],"nice":false},"axis":{"values":[1000,2000,3000],"title":"actuator space","format":"d"}},
    "color":{"field":"m","type":"nominal","scale":{"domain":[1,2,3],"range":["#0072BD","#D95319","#7E2F8E"]},"legend":null}}},
  {"width":104,"height":104,"layer":[
   {"data":{"name":"circle"},"mark":{"type":"line","strokeWidth":2.2,"interpolate":"cardinal"},
    "encoding":{"x":{"field":"x","type":"quantitative","scale":{"domain":[-1,1],"nice":false},"axis":{"values":[-1,0,1],"title":"x","labelExpr":"'' + datum.value"}},
     "y":{"field":"y","type":"quantitative","scale":{"domain":[-1,1],"nice":false},"axis":{"values":[-1,0,1],"title":"y","labelExpr":"'' + datum.value"}},
     "order":{"field":"i","type":"quantitative"},
     "color":{"datum":"desired trajectory","type":"nominal","scale":{"domain":["desired trajectory","output trajectory"],"range":["black","red"]},"legend":null}}},
   {"data":{"name":"redA"},"mark":{"type":"line","strokeWidth":1,"clip":true,"interpolate":"cardinal"},
    "encoding":{"x":{"field":"x","type":"quantitative","scale":{"domain":[-1,1],"nice":false}},"y":{"field":"y","type":"quantitative","scale":{"domain":[-1,1],"nice":false}},
     "order":{"field":"i","type":"quantitative"},"color":{"datum":"output trajectory","type":"nominal"}}}
  ]}
 ],
 "spacing":39,"bounds":"flush","center":true,
 "resolve":{"scale":{"color":"independent","strokeDash":"independent","x":"independent","y":"independent"}},
 "title":{"text":["(a)\u00a0\u00a0\u00a0\u00a0Adding\u00a0\u00a0\u00a0\u00a0a\u00a0\u00a0\u00a0\u00a0weight\u00a0\u00a0\u00a0\u00a0after","learning"],"orient":"bottom","anchor":"start","font":"Liberation Serif","fontSize":22,"fontWeight":"normal","color":"black","lineHeight":25,"offset":0,"dx":-7,"baseline":"top"}
},
{
 "vconcat":[
  {"width":217,"height":91,"data":{"name":"trajB"},"mark":{"type":"line","color":"black","strokeWidth":1,"clip":true,"interpolate":"monotone"},
   "encoding":{"x":{"field":"t","type":"quantitative","scale":{"domain":[0,500],"nice":false},"axis":{"values":[0,100,200,300,400,500],"title":"time steps"}},
    "y":{"field":"v","type":"quantitative","scale":{"domain":[-1,1],"nice":false},"axis":{"values":[-1,0,1],"title":"trajectory","labelExpr":"'' + datum.value"}},
    "strokeDash":{"field":"s","type":"nominal","scale":{"domain":["x","y"],"range":[[1,0],[5,3]]},"legend":null}}},
  {"width":217,"height":91,"data":{"name":"actB"},"mark":{"type":"line","strokeWidth":1.2,"clip":true},
   "encoding":{"x":{"field":"t","type":"quantitative","scale":{"domain":[0,500],"nice":false},"axis":{"values":[0,100,200,300,400,500],"title":"time steps"}},
    "y":{"field":"v","type":"quantitative","scale":{"domain":[1000,3000],"nice":false},"axis":{"values":[1000,2000,3000],"title":"actuator space","format":"d"}},
    "color":{"field":"m","type":"nominal","scale":{"domain":[1,2,3],"range":["#0072BD","#D95319","#7E2F8E"]},"legend":null}}},
  {"width":103,"height":103,"layer":[
   {"data":{"name":"circle"},"mark":{"type":"line","strokeWidth":2.2,"interpolate":"cardinal"},
    "encoding":{"x":{"field":"x","type":"quantitative","scale":{"domain":[-1,1],"nice":false},"axis":{"values":[-1,0,1],"title":"x","labelExpr":"'' + datum.value"}},
     "y":{"field":"y","type":"quantitative","scale":{"domain":[-1,1],"nice":false},"axis":{"values":[-1,0,1],"title":"y","labelExpr":"'' + datum.value"}},
     "order":{"field":"i","type":"quantitative"},
     "color":{"datum":"desired trajectory","type":"nominal","scale":{"domain":["desired trajectory","output trajectory"],"range":["black","red"]},"legend":null}}},
   {"data":{"name":"redB"},"mark":{"type":"line","strokeWidth":1,"clip":true,"interpolate":"cardinal"},
    "encoding":{"x":{"field":"x","type":"quantitative","scale":{"domain":[-1,1],"nice":false}},"y":{"field":"y","type":"quantitative","scale":{"domain":[-1,1],"nice":false}},
     "order":{"field":"i","type":"quantitative"},"color":{"datum":"output trajectory","type":"nominal"}}}
  ]}
 ],
 "spacing":37,"bounds":"flush","center":true,
 "resolve":{"scale":{"color":"independent","strokeDash":"independent","x":"independent","y":"independent"}},
 "title":{"text":["(b)\u00a0\u00a0\u00a0Additional\u00a0\u00a0\u00a0weight\u00a0\u00a0\u00a0during","learning\u00a0\u00a0and\u00a0\u00a0evaluation"],"orient":"bottom","anchor":"start","font":"Liberation Serif","fontSize":22,"fontWeight":"normal","color":"black","lineHeight":25,"offset":0,"dx":-7,"baseline":"top"}
},
{
 "vconcat":[
  {"width":218,"height":78,"data":{"name":"trajC"},"mark":{"type":"line","color":"black","strokeWidth":1,"clip":true,"interpolate":"monotone"},
   "encoding":{"x":{"field":"t","type":"quantitative","scale":{"domain":[0,500],"nice":false},"axis":{"values":[0,100,200,300,400,500],"title":"time steps"}},
    "y":{"field":"v","type":"quantitative","scale":{"domain":[-1,1],"nice":false},"axis":{"values":[-1,0,1],"title":"trajectory","labelExpr":"'' + datum.value"}},
    "strokeDash":{"field":"s","type":"nominal","scale":{"domain":["x","y"],"range":[[1,0],[5,3]]},
     "legend":{"orient":"none","legendX":322,"legendY":10,"title":null,"symbolStrokeColor":"black","labelExpr":"'output ' + datum.label + '\u00a0\u00a0\u00a0'","rowPadding":0}}}},
  {"width":218,"height":75,"data":{"name":"actC"},"mark":{"type":"line","strokeWidth":1.2,"clip":true},
   "encoding":{"x":{"field":"t","type":"quantitative","scale":{"domain":[0,500],"nice":false},"axis":{"values":[0,100,200,300,400,500],"title":"time steps"}},
    "y":{"field":"v","type":"quantitative","scale":{"domain":[1000,3000],"nice":false},"axis":{"values":[1000,2000,3000],"title":"actuator space","format":"d"}},
    "color":{"field":"m","type":"nominal","scale":{"domain":[1,2,3],"range":["#0072BD","#D95319","#7E2F8E"]},
     "legend":{"orient":"none","legendX":322,"legendY":8,"title":null,"rowPadding":8,"labelExpr":"'muscle M' + (datum.value == 1 ? '\u2081' : datum.value == 2 ? '\u2082' : '\u2083')"}}}},
  {"width":104,"height":105,"layer":[
   {"data":{"name":"circle"},"mark":{"type":"line","strokeWidth":2.2,"interpolate":"cardinal"},
    "encoding":{"x":{"field":"x","type":"quantitative","scale":{"domain":[-1,1],"nice":false},"axis":{"values":[-1,0,1],"title":"x","labelExpr":"'' + datum.value"}},
     "y":{"field":"y","type":"quantitative","scale":{"domain":[-1,1],"nice":false},"axis":{"values":[-1,0,1],"title":"y","labelExpr":"'' + datum.value"}},
     "order":{"field":"i","type":"quantitative"},
     "color":{"datum":"desired trajectory","type":"nominal","scale":{"domain":["desired trajectory","output trajectory"],"range":["black","red"]},
      "legend":{"orient":"none","legendX":265,"legendY":25,"title":null,"rowPadding":3,"labelExpr":"split(datum.label, ' ')","encode":{"labels":{"update":{"lineHeight":{"value":14}}},"symbols":{"update":{"strokeDash":{"signal":"datum.value === 'desired trajectory' ? [5,2,1,2] : [1,0]"}}}}}}}},
   {"data":{"name":"redC"},"mark":{"type":"line","strokeWidth":1,"clip":true,"interpolate":"cardinal"},
    "encoding":{"x":{"field":"x","type":"quantitative","scale":{"domain":[-1,1],"nice":false}},"y":{"field":"y","type":"quantitative","scale":{"domain":[-1,1],"nice":false}},
     "order":{"field":"i","type":"quantitative"},"color":{"datum":"output trajectory","type":"nominal"}}}
  ]}
 ],
 "spacing":48,"bounds":"flush","center":true,
 "resolve":{"scale":{"color":"independent","strokeDash":"independent","x":"independent","y":"independent"}},
 "title":{"text":["(c)\u00a0\u00a0\u00a0Removing\u00a0\u00a0\u00a0\u00a0weight\u00a0\u00a0\u00a0\u00a0after","learning"],"orient":"bottom","anchor":"start","font":"Liberation Serif","fontSize":22,"fontWeight":"normal","color":"black","lineHeight":25,"offset":4,"dx":-7,"baseline":"top"}
}
],
"spacing":369,"bounds":"flush",
"resolve":{"scale":{"color":"independent","strokeDash":"independent","x":"independent","y":"independent"}}
}
